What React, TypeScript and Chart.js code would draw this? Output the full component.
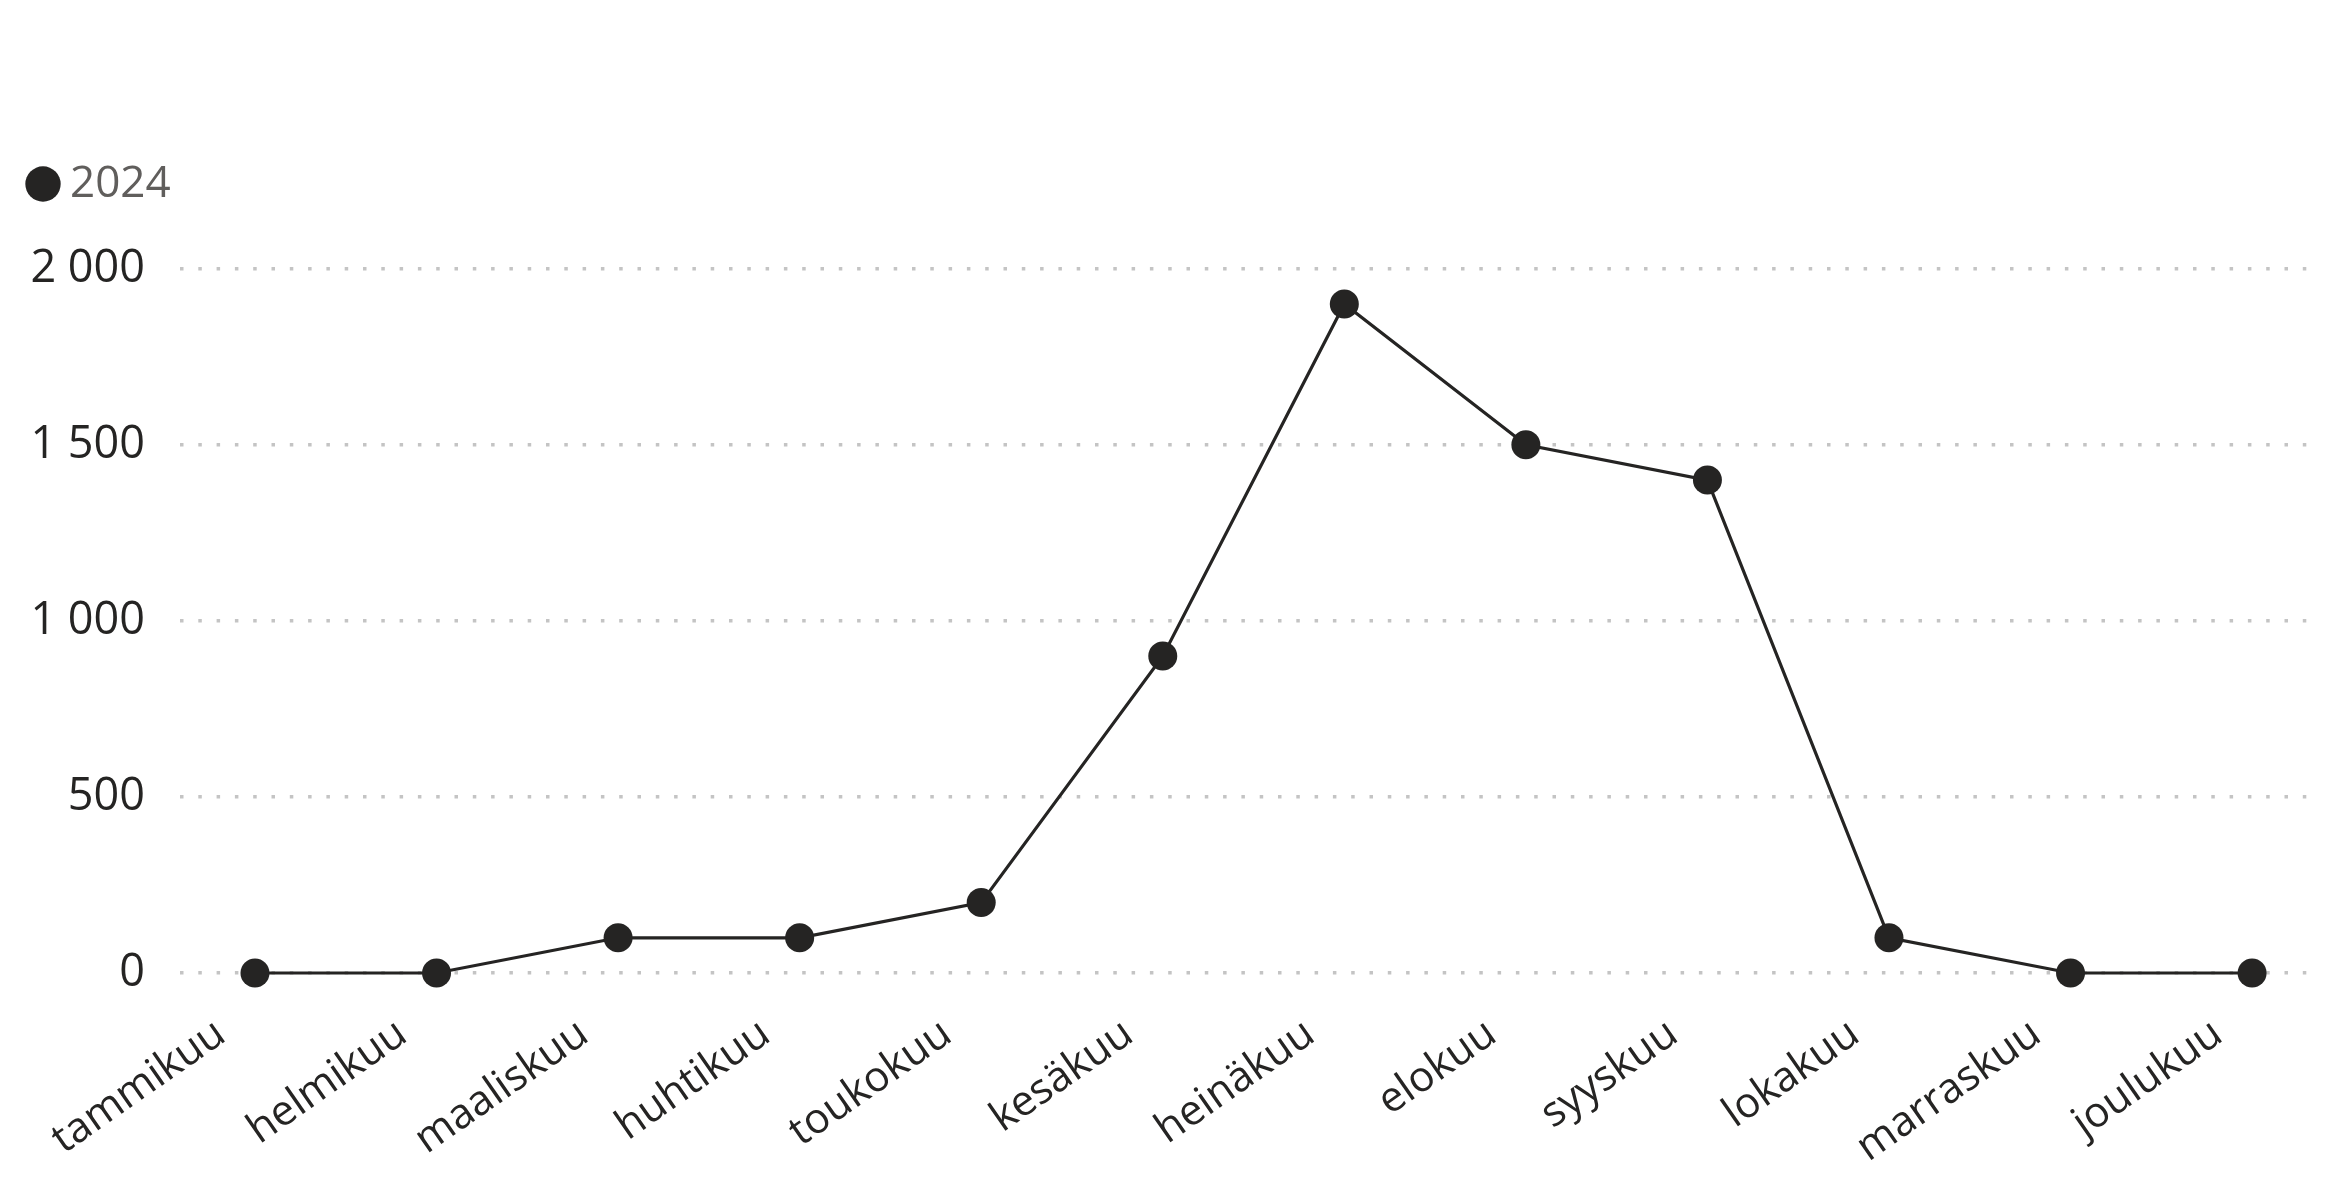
import React, { useEffect, useRef } from "react";
import { Chart, registerables } from "chart.js";

Chart.register(...registerables);

const months = [
  "tammikuu", "helmikuu", "maaliskuu", "huhtikuu", "toukokuu", "kesäkuu",
  "heinäkuu", "elokuu", "syyskuu", "lokakuu", "marraskuu", "joulukuu",
];
const values2024 = [0, 0, 100, 100, 200, 900, 1900, 1500, 1400, 100, 0, 0];
const seriesLabel = "2024";
const yTicks = [0, 500, 1000, 1500, 2000];

const FONT = "'Segoe UI', 'Open Sans', sans-serif";
const DARK = "#252423";

function fmt(v: number): string {
  return String(v).replace(/\B(?=(\d{3})+(?!\d))/g, " ");
}

export default function App() {
  const ref = useRef<HTMLCanvasElement>(null);
  useEffect(() => {
    const chart = new Chart(ref.current!, {
      type: "line",
      data: {
        datasets: [
          {
            label: seriesLabel,
            data: values2024.map((v, i) => ({ x: i, y: v })),
            borderColor: DARK,
            backgroundColor: DARK,
            borderWidth: 3.2,
            pointRadius: 14.5,
            pointHoverRadius: 14.5,
            pointBackgroundColor: DARK,
            pointBorderColor: DARK,
            pointBorderWidth: 0,
            tension: 0,
            clip: false as any,
          },
        ],
      },
      options: {
        animation: false,
        responsive: false,
        devicePixelRatio: 1,
        layout: { padding: { top: 124, left: 0, right: 27, bottom: 0 } },
        plugins: {
          legend: {
            display: true,
            position: "top",
            align: "start",
            labels: {
              usePointStyle: true,
              pointStyle: "circle",
              boxWidth: 10,
              boxHeight: 25,
              padding: 38,
              color: "#605E5C",
              font: { size: 44, family: FONT },
            },
          },
          tooltip: { enabled: false },
        },
        scales: {
          x: {
            type: "linear",
            min: -0.413,
            max: 11.352,
            bounds: "data",
            afterBuildTicks: (s: any) => {
              s.ticks = months.map((_, i) => ({ value: i }));
            },
            afterFit: (s: any) => {
              s.height = 227;
              s.paddingLeft = 0;
              s.paddingRight = 0;
            },
            grid: { display: false, drawTicks: false },
            border: { display: false },
            ticks: {
              autoSkip: false,
              minRotation: 35,
              maxRotation: 35,
              padding: 36,
              labelOffset: -34,
              color: DARK,
              font: { size: 42, family: FONT },
              callback: (v: any) => months[Math.round(Number(v))] ?? "",
            },
          },
          y: {
            min: 0,
            max: 2150,
            bounds: "data",
            afterBuildTicks: (s: any) => {
              s.ticks = yTicks.map((v) => ({ value: v }));
            },
            afterFit: (s: any) => {
              s.width = 180;
            },
            grid: { color: "#c4c4c4", lineWidth: 3.5, drawTicks: false },
            border: { display: false, dash: [3.5, 14.8] },
            ticks: {
              padding: 35,
              color: DARK,
              font: { size: 45, family: FONT },
              callback: (v: any) => fmt(Number(v)),
            },
          },
        },
      },
    });
    return () => chart.destroy();
  }, []);
  return (
    <div style={{ position: "absolute", left: 0, top: 0, width: 2343, height: 1200, background: "#fff" }}>
      <canvas ref={ref} width={2343} height={1200} style={{ width: 2343, height: 1200, display: "block" }} />
    </div>
  );
}
